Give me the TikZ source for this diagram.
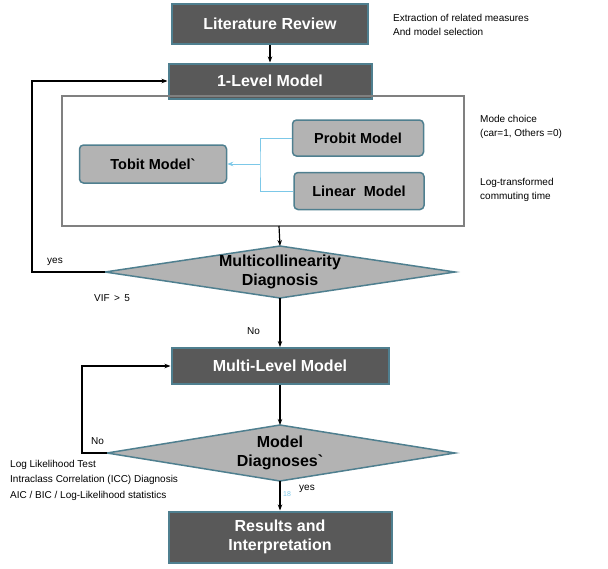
\documentclass[tikz,border=0pt]{standalone}
\usepackage{fontspec}
\setmainfont{Liberation Sans}
\usetikzlibrary{arrows.meta}
\definecolor{boxdark}{HTML}{595959}
\definecolor{boxedge}{HTML}{4F7F8F}
\definecolor{boxlight}{HTML}{B3B3B3}
\definecolor{linkblue}{HTML}{7CC8E8}
\tikzset{
  dark/.style={draw=boxedge, line width=2pt, fill=boxdark, text=white, font=\bfseries\fontsize{16}{19}\selectfont, inner sep=0pt, align=center},
  light/.style={draw=boxedge, line width=1.5pt, fill=boxlight, rounded corners=4pt, font=\bfseries\fontsize{14.5}{16}\selectfont, inner sep=0pt},
  test/.style={draw=boxedge, line width=1.5pt, fill=boxlight},
  testtext/.style={align=center, inner sep=0pt, font=\bfseries\fontsize{16}{19}\selectfont},
  note/.style={font=\fontsize{10}{12}\selectfont, align=left, anchor=west, inner sep=0pt},
  flow/.style={-{Stealth[length=6pt]}, line width=1.2pt}
}
\begin{document}
\begin{tikzpicture}[x=1pt, y=-1pt]
    \useasboundingbox (0,0) rectangle (608,568);
    \node[dark, minimum width=196pt, minimum height=40pt] (lit) at (270,24) {Literature Review};
    \node[dark, minimum width=203pt, minimum height=35pt] (one) at (270,81) {1-Level Model};
    \draw[line width=1.2pt, draw=gray] (62,96) rectangle (464,226);
    \coordinate (boxbot) at (279,226);
    \node[light, minimum width=131pt, minimum height=36pt] (probit) at (358,138) {Probit Model};
    \node[light, minimum width=147pt, minimum height=38pt] (tobit) at (153,164) {Tobit Model\textasciigrave};
    \node[light, minimum width=130pt, minimum height=37pt] (linear) at (359,191) {Linear~~Model};
    % decision 1
    \coordinate (multiN) at (280,246); \coordinate (multiS) at (280,298);
    \coordinate (multiW) at (105,272); \coordinate (multiE) at (455,272);
    \draw[test] (multiN) -- (multiE) -- (multiS) -- (multiW) -- cycle;
    \node[testtext] (multi) at (280,272) {Multicollinearity\\Diagnosis};
    \node[dark, minimum width=217pt, minimum height=36pt] (mlm) at (280,366) {Multi-Level Model};
    % decision 2
    \coordinate (diagN) at (280,425); \coordinate (diagS) at (280,481);
    \coordinate (diagW) at (107,453); \coordinate (diagE) at (455,453);
    \draw[test] (diagN) -- (diagE) -- (diagS) -- (diagW) -- cycle;
    \node[testtext] (diag) at (280,453) {Model\\Diagnoses\textasciigrave};
    \node[dark, minimum width=223pt, minimum height=51pt] (res) at (280,537) {Results and\\Interpretation};

    % links
    \draw[flow] (lit) -- (one);
    \draw[linkblue, line width=0.8pt] (probit.west) -| (260,164) |- (linear.west);
    \draw[linkblue, line width=0.8pt, -{Stealth[length=6pt]}] (260,164) -- (tobit.east);
    \draw[flow] (boxbot) -- (multiN);
    \coordinate (yesturn) at (32,272);
    \draw[flow] (multiW) -- (yesturn) |- (one.west);
    \draw[flow] (multiS) -- (mlm.north);
    \draw[flow] (mlm.south) -- (diagN);
    \coordinate (noturn) at (82,453);
    \draw[flow] (diagW) -- (noturn) |- (mlm.west);
    \draw[flow] (diagS) -- (res.north);

    % notes
    \node[note] at (393,18) {Extraction of related measures};
    \node[note] at (393,32) {And model selection};
    \node[note] at (480,119) {Mode choice};
    \node[note] at (480,134) {(car=1, Others =0)};
    \node[note] at (480,183) {Log-transformed};
    \node[note] at (480,197) {commuting time};
    \node[note] at (47,262) {yes};
    \node[note] at (94,298) {VIF \,>\, 5};
    \node[note] at (247,331) {No};
    \node[note] at (91,441) {No};
    \node[note] at (10,465) {Log Likelihood Test};
    \node[note] at (10,480) {Intraclass Correlation (ICC) Diagnosis};
    \node[note] at (10,496) {AIC / BIC / Log-Likelihood statistics};
    \node[note] at (299,489) {yes};
    \node[note, text=linkblue, font=\fontsize{7}{8}\selectfont] at (283,494) {18};
\end{tikzpicture}
\end{document}
